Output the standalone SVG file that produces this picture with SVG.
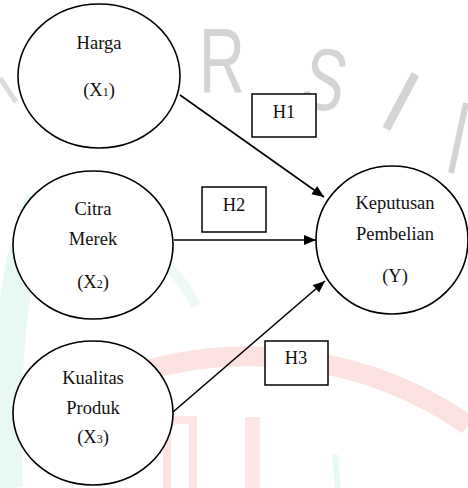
<svg xmlns="http://www.w3.org/2000/svg" width="468" height="488" viewBox="0 0 468 488">
  <defs>
    <style>
      .node { fill: #ffffff; stroke: #000000; stroke-width: 1.6; }
      .box { fill: #ffffff; stroke: #000000; stroke-width: 1.5; }
      .lbl { font-family: "Liberation Serif", "Times New Roman", serif; font-size: 18.5px; fill: #111111; text-anchor: middle; }
      .sub { font-size: 12px; }
      .edge { stroke: #000000; stroke-width: 1.6; fill: none; }
      .wm { font-family: "Liberation Sans", Arial, sans-serif; fill: #d4d4d4; }
    </style>
    <marker id="arrow" markerUnits="userSpaceOnUse" markerWidth="13" markerHeight="11" refX="12" refY="5" orient="auto">
      <path d="M0,0 L12,5 L0,10 Z" fill="#000000"/>
    </marker>
  </defs>
  <rect x="0" y="0" width="468" height="488" fill="#ffffff"/>

  <g id="watermark">
    <path d="M 40 200 Q 0 300 8 488" stroke="#e8f8f2" stroke-width="30" fill="none"/>
    <path d="M 150 252 Q 182 275 196 306" stroke="#ecf9f4" stroke-width="10" fill="none"/>
    <path d="M 140 372 A 385 385 0 0 1 468 425" stroke="#fde2e2" stroke-width="20" fill="none"/>
    <rect x="167" y="420" width="26" height="80" fill="none" stroke="#fde4e4" stroke-width="8"/>
    <rect x="245" y="417" width="15" height="71" fill="#fde6e6"/>
    <path d="M 335 455 L 338 488" stroke="#e8f8f3" stroke-width="6" fill="none"/>
    <path d="M 466 103 L 451 173" stroke="#d4d4d4" stroke-width="6" fill="none"/>
    <path d="M 0 78 L 16 102" stroke="#dcdcdc" stroke-width="5" fill="none"/>
    <text class="wm" x="222" y="93" font-size="92" textLength="46" lengthAdjust="spacingAndGlyphs" text-anchor="middle">R</text>
    <text class="wm" x="325" y="110" font-size="88" textLength="42" lengthAdjust="spacingAndGlyphs" text-anchor="middle" transform="rotate(12 325 80)">S</text>
    <text class="wm" x="399" y="132" font-size="90" text-anchor="middle" transform="rotate(28 399 105)">I</text>
  </g>

  <g id="connectors">
    <line class="edge" x1="180" y1="95" x2="324" y2="197" marker-end="url(#arrow)"/>
    <line class="edge" x1="174" y1="240" x2="316" y2="240" marker-end="url(#arrow)"/>
    <line class="edge" x1="173" y1="412" x2="325" y2="281" marker-end="url(#arrow)"/>
  </g>

  <g id="node-harga">
    <ellipse class="node" cx="99" cy="76" rx="81" ry="72"/>
    <text class="lbl" x="99" y="49">Harga</text>
    <text class="lbl" x="99" y="96">(X<tspan class="sub">1</tspan>)</text>
  </g>

  <g id="node-citra">
    <ellipse class="node" cx="93" cy="245" rx="80" ry="74"/>
    <text class="lbl" x="93" y="215">Citra</text>
    <text class="lbl" x="93" y="245">Merek</text>
    <text class="lbl" x="93" y="288">(X<tspan class="sub">2</tspan>)</text>
  </g>

  <g id="node-kualitas">
    <ellipse class="node" cx="93" cy="413" rx="80" ry="72"/>
    <text class="lbl" x="93" y="384">Kualitas</text>
    <text class="lbl" x="93" y="414">Produk</text>
    <text class="lbl" x="93" y="443">(X<tspan class="sub">3</tspan>)</text>
  </g>

  <g id="node-keputusan">
    <ellipse class="node" cx="392" cy="240" rx="76" ry="74"/>
    <text class="lbl" x="395" y="209">Keputusan</text>
    <text class="lbl" x="395" y="240">Pembelian</text>
    <text class="lbl" x="395" y="282">(Y)</text>
  </g>

  <g id="label-h1">
    <rect class="box" x="252" y="94" width="64" height="43"/>
    <text class="lbl" x="284" y="118">H1</text>
  </g>

  <g id="label-h2">
    <rect class="box" x="202" y="187" width="64" height="45"/>
    <text class="lbl" x="234" y="211">H2</text>
  </g>

  <g id="label-h3">
    <rect class="box" x="265" y="341" width="63" height="44"/>
    <text class="lbl" x="296" y="364">H3</text>
  </g>
</svg>
